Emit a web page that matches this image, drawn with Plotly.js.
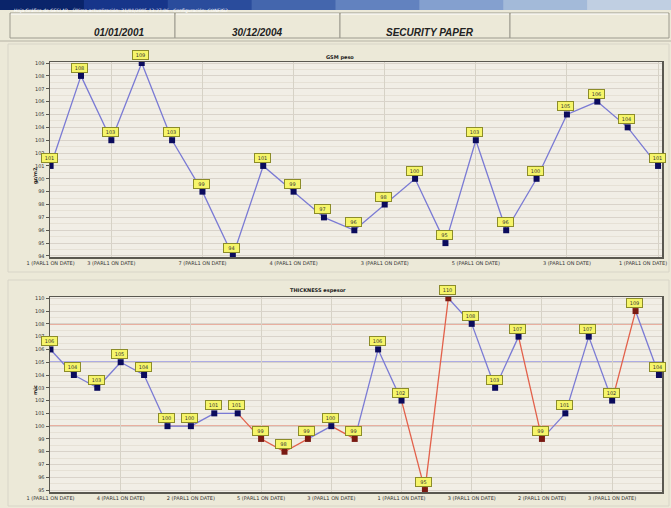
<!DOCTYPE html>
<html>
<head>
<meta charset="utf-8">
<script src="https://cdn.plot.ly/plotly-3.0.1.min.js"></script>
<style>html,body{margin:0;padding:0;background:#ece9d8;}#chart{width:671px;height:508px;}</style>
</head>
<body>
<div id="chart"></div>
<script>
// ---- data ----
const headerTexts = ["01/01/2001", "30/12/2004", "SECURITY PAPER", ""];
const windowTitle = "Hoja Gráfica de GESLAB - Última actualización: 31/01/2005 13:27:06 - Configuración: CONFIG2";
const topTitle = "GSM peso";
const bottomTitle = "THICKNESS espesor";
const topYLabel = "gr/m2";
const bottomYLabel = "mic";

const gsmValues = [101, 108, 103, 109, 103, 99, 94, 101, 99, 97, 96, 98, 100, 95, 103, 96, 100, 105, 106, 104, 101];
const gsmTickVals = [1, 3, 6, 9, 12, 15, 18, 21];
const gsmTickText = ["1 (PARL1 ON DATE)", "3 (PARL1 ON DATE)", "7 (PARL1 ON DATE)", "4 (PARL1 ON DATE)",
                     "3 (PARL1 ON DATE)", "5 (PARL1 ON DATE)", "3 (PARL1 ON DATE)", "1 (PARL1 ON DATE)"];

const thickValues = [106, 104, 103, 105, 104, 100, 100, 101, 101, 99, 98, 99, 100, 99, 106, 102, 95, 110, 108, 103, 107, 99, 101, 107, 102, 109, 104];
const thickTickVals = [1, 4, 7, 10, 13, 16, 19, 22, 25];
const thickTickText = ["1 (PARL1 ON DATE)", "4 (PARL1 ON DATE)", "2 (PARL1 ON DATE)", "5 (PARL1 ON DATE)",
                       "3 (PARL1 ON DATE)", "1 (PARL1 ON DATE)", "3 (PARL1 ON DATE)", "2 (PARL1 ON DATE)", "3 (PARL1 ON DATE)"];
const thickNominal = 105;
const thickLower = 100;
const thickUpper = 108;

// ---- build ----
const W = 671, H = 508;
const px = x => x / W;
const py = y => 1 - y / H;

const BLUE_LINE = '#7a7ad4';
const RED_LINE = '#e2604a';
const BLUE_MARK = '#0b0b5c';
const RED_MARK = '#7a1a12';

const gsmX = gsmValues.map((_, i) => i + 1);
const thX = thickValues.map((_, i) => i + 1);
const isOut = v => v < thickLower || v > thickUpper;

// split thickness line into blue / red segments (segment colour = colour of its end point)
const bX = [], bY = [], rX = [], rY = [];
for (let i = 1; i < thickValues.length; i++) {
  const tx = isOut(thickValues[i]) ? rX : bX;
  const ty = isOut(thickValues[i]) ? rY : bY;
  tx.push(thX[i - 1], thX[i], null);
  ty.push(thickValues[i - 1], thickValues[i], null);
}

const traces = [
  {x: gsmX, y: gsmValues, xaxis: 'x', yaxis: 'y', mode: 'lines+markers', type: 'scatter',
   line: {color: BLUE_LINE, width: 1.3},
   marker: {symbol: 'square', size: 6, color: BLUE_MARK}, hoverinfo: 'skip'},
  {x: bX, y: bY, xaxis: 'x2', yaxis: 'y2', mode: 'lines', type: 'scatter',
   line: {color: BLUE_LINE, width: 1.3}, hoverinfo: 'skip', connectgaps: false},
  {x: rX, y: rY, xaxis: 'x2', yaxis: 'y2', mode: 'lines', type: 'scatter',
   line: {color: RED_LINE, width: 1.3}, hoverinfo: 'skip', connectgaps: false},
  {x: thX, y: thickValues, xaxis: 'x2', yaxis: 'y2', mode: 'markers', type: 'scatter',
   marker: {symbol: 'square', size: 6, color: thickValues.map(v => isOut(v) ? RED_MARK : BLUE_MARK)},
   hoverinfo: 'skip'}
];

const annotations = [];
const labelBox = (x, y, xa, ya, v) => ({
  x: x, y: y, xref: xa, yref: ya, text: String(v), showarrow: false, yshift: 8, xshift: -1,
  font: {size: 5, color: '#333', family: 'DejaVu Sans'},
  bgcolor: '#f6f56a', bordercolor: '#8c8c2a', borderwidth: 1, borderpad: 1, width: 13, height: 6
});
gsmValues.forEach((v, i) => annotations.push(labelBox(gsmX[i], v, 'x', 'y', v)));
thickValues.forEach((v, i) => annotations.push(labelBox(thX[i], v, 'x2', 'y2', v)));

// last top tick label kept inside the page (right-aligned under its tick)
const lastIdx = gsmTickVals.length - 1;
annotations.push({x: gsmTickVals[lastIdx], y: 0, xref: 'x', yref: 'y domain', yanchor: 'top', xanchor: 'right',
  xshift: 11, yshift: -1, text: gsmTickText[lastIdx], showarrow: false,
  font: {size: 5, color: '#333', family: 'DejaVu Sans'}});
const gsmTickTextShown = gsmTickText.map((t, i) => i === lastIdx ? '' : t);

// header texts
const headerCenters = [92, 257, 430, 590];
headerTexts.forEach((t, i) => {
  if (t) annotations.push({x: px(headerCenters[i]), y: py(25), xref: 'paper', yref: 'paper', text: '<b><i>' + t + '</i></b>',
    showarrow: false, font: {size: 10, color: '#222', family: 'Liberation Sans'}});
});
annotations.push({x: px(12), y: py(5), xref: 'paper', yref: 'paper', xanchor: 'left', text: windowTitle,
  showarrow: false, font: {size: 4.5, color: '#ffffff', family: 'DejaVu Sans'}});
annotations.push({x: px(340), y: py(52), xref: 'paper', yref: 'paper', text: '<b>' + topTitle + '</b>',
  showarrow: false, font: {size: 5, color: '#222', family: 'DejaVu Sans'}});
annotations.push({x: px(318), y: py(290), xref: 'paper', yref: 'paper', text: '<b>' + bottomTitle + '</b>',
  showarrow: false, font: {size: 5, color: '#222', family: 'DejaVu Sans'}});
annotations.push({x: px(30), y: py(165), xref: 'paper', yref: 'paper', text: '<b>' + topYLabel + '</b>', textangle: -90,
  showarrow: false, font: {size: 5, color: '#222', family: 'DejaVu Sans'}});
annotations.push({x: px(30), y: py(397), xref: 'paper', yref: 'paper', text: '<b>' + bottomYLabel + '</b>', textangle: -90,
  showarrow: false, font: {size: 5, color: '#222', family: 'DejaVu Sans'}});

const shapes = [];
// window title bar gradient
const barCols = ['#0a246a', '#17358a', '#2a4c9c', '#4466ad', '#6282bf', '#84a0cf', '#a3bad9', '#c0cfe2'];
barCols.forEach((c, i) => shapes.push({type: 'rect', xref: 'paper', yref: 'paper', layer: 'below',
  x0: px(i * W / barCols.length), x1: px((i + 1) * W / barCols.length + 1), y0: py(10), y1: py(0),
  fillcolor: c, line: {width: 0}}));
// header cells
const cellEdges = [10, 175, 340, 510, 669];
for (let i = 0; i < 4; i++) {
  shapes.push({type: 'rect', xref: 'paper', yref: 'paper', layer: 'below',
    x0: px(cellEdges[i]), x1: px(cellEdges[i + 1]), y0: py(38), y1: py(13),
    fillcolor: '#ece9d8', line: {color: '#9c9a8e', width: 1}});
  shapes.push({type: 'line', xref: 'paper', yref: 'paper', layer: 'below',
    x0: px(cellEdges[i] + 1), x1: px(cellEdges[i + 1] - 1), y0: py(14), y1: py(14), line: {color: '#ffffff', width: 1}});
}
shapes.push({type: 'line', xref: 'paper', yref: 'paper', x0: 0, x1: 1, y0: py(41), y1: py(41), line: {color: '#b5b2a4', width: 1}});
// panels
shapes.push({type: 'rect', xref: 'paper', yref: 'paper', layer: 'below', x0: px(8), x1: px(669), y0: py(272), y1: py(44),
  fillcolor: 'rgba(0,0,0,0)', line: {color: '#d8d5c8', width: 1}});
shapes.push({type: 'rect', xref: 'paper', yref: 'paper', layer: 'below', x0: px(8), x1: px(669), y0: py(506), y1: py(280),
  fillcolor: 'rgba(0,0,0,0)', line: {color: '#d8d5c8', width: 1}});
// thickness reference lines
[[thickUpper, '#e0705a'], [thickLower, '#e0705a'], [thickNominal, '#6a6ae0']].forEach(([v, c]) => {
  shapes.push({type: 'line', xref: 'x2 domain', yref: 'y2', x0: 0, x1: 1, y0: v, y1: v, layer: 'below',
    line: {color: c, width: 1.3}});
});

const axisCommon = {
  showline: true, mirror: true, linecolor: '#5a5850', linewidth: 1.5, zeroline: false,
  tickfont: {size: 5, color: '#333', family: 'DejaVu Sans'}, fixedrange: true
};

const layout = {
  width: W, height: H, margin: {l: 0, r: 0, t: 0, b: 0},
  paper_bgcolor: '#ece9d8', plot_bgcolor: '#f1eee6', showlegend: false,
  xaxis: Object.assign({}, axisCommon, {domain: [px(50), px(662)], range: [0.98, 21.13], anchor: 'y',
    tickmode: 'array', tickvals: gsmTickVals, ticktext: gsmTickTextShown, showgrid: true, gridcolor: '#d6d2c6', gridwidth: 1,
    ticks: '', ticklen: 2}),
  yaxis: Object.assign({}, axisCommon, {domain: [py(257), py(62)], range: [93.92, 109.08], anchor: 'x',
    dtick: 1, tick0: 94, showgrid: true, gridcolor: '#d9d3ca', ticks: 'outside', ticklen: 3, tickcolor: '#5a5850',
    minor: {dtick: 0.5, showgrid: true, gridcolor: '#e6e1d6'}}),
  xaxis2: Object.assign({}, axisCommon, {domain: [px(50), px(662)], range: [0.98, 27.13], anchor: 'y2',
    tickmode: 'array', tickvals: thickTickVals, ticktext: thickTickText, showgrid: true, gridcolor: '#d6d2c6', gridwidth: 1,
    ticks: '', ticklen: 2}),
  yaxis2: Object.assign({}, axisCommon, {domain: [py(492), py(297)], range: [94.85, 110.1], anchor: 'x2',
    dtick: 1, tick0: 95, showgrid: true, gridcolor: '#d9d3ca', ticks: 'outside', ticklen: 3, tickcolor: '#5a5850',
    minor: {dtick: 0.5, showgrid: true, gridcolor: '#e6e1d6'}}),
  annotations: annotations,
  shapes: shapes
};

Plotly.newPlot('chart', traces, layout, {displayModeBar: false, staticPlot: true});
</script>
</body>
</html>
